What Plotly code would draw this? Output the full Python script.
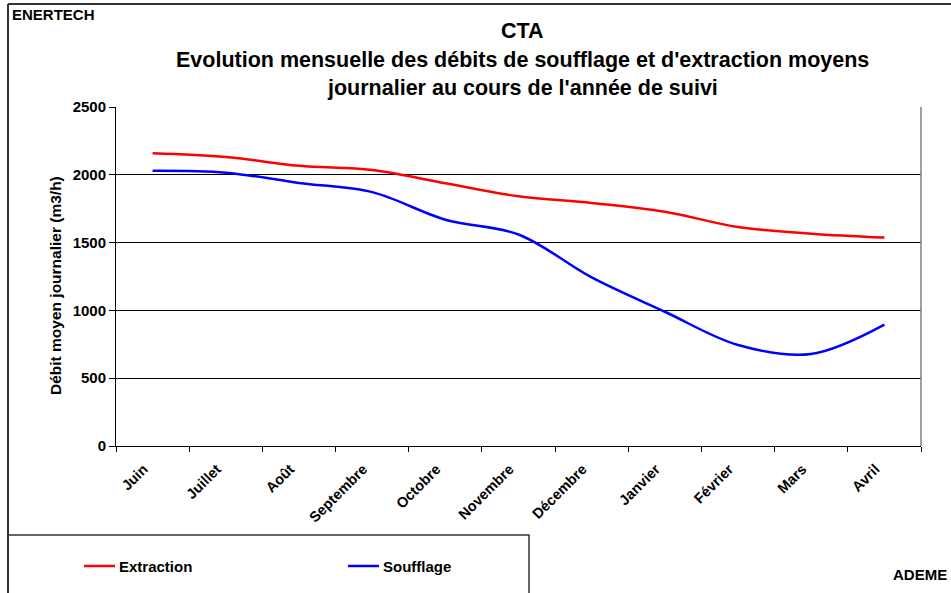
import plotly.graph_objects as go

months = ["Juin", "Juillet", "Août", "Septembre", "Octobre", "Novembre",
          "Décembre", "Janvier", "Février", "Mars", "Avril"]
extraction = [2159, 2132, 2066, 2035, 1938, 1842, 1792, 1727, 1615, 1566, 1537]
soufflage = [2030, 2016, 1940, 1872, 1669, 1560, 1243, 990, 745, 679, 895]
y_ticks = [0, 500, 1000, 1500, 2000, 2500]
title_lines = ["CTA",
               "Evolution mensuelle des débits de soufflage et d'extraction moyens",
               "journalier au cours de l'année de suivi"]
y_title = "Débit moyen journalier (m3/h)"

FONT = "Liberation Sans, Arial, sans-serif"

# plot-area geometry in pixels (used to place decorations in paper coords)
L, R, T, B = 116, 921, 107, 446
W, H = R - L, B - T


def px(x):
    return (x - L) / W


def py(y):
    return (B - y) / H


fig = go.Figure()
fig.add_trace(go.Scatter(x=months, y=extraction, name="Extraction", mode="lines",
                         line=dict(color="#ff0000", width=2.5, shape="spline", smoothing=1.0)))
fig.add_trace(go.Scatter(x=months, y=soufflage, name="Soufflage", mode="lines",
                         line=dict(color="#0000ff", width=2.5, shape="spline", smoothing=1.0)))

fig.update_layout(
    width=951, height=593,
    margin=dict(l=L, r=951 - R, t=T, b=593 - B),
    paper_bgcolor="white", plot_bgcolor="white",
    font=dict(family=FONT, color="black", size=14),
    showlegend=False,
    xaxis=dict(
        type="category", range=[-0.5, 10.5],
        showgrid=False, showline=True, linecolor="black", linewidth=1,
        ticks="outside", tickson="boundaries", ticklen=5, tickcolor="black",
        tickangle=-45, tickfont=dict(family=FONT, size=14.5, color="black"),
        tickvals=months, ticktext=["<b>%s</b>" % m for m in months],
        ticklabelshift=-9, ticklabelstandoff=8,
        zeroline=False,
    ),
    yaxis=dict(
        range=[0, 2500], tickvals=y_ticks,
        ticktext=["<b>%d</b>" % v for v in y_ticks],
        showgrid=True, gridcolor="black", gridwidth=1,
        showline=True, linecolor="black", linewidth=1,
        ticks="outside", ticklen=6, tickcolor="black",
        tickfont=dict(family=FONT, size=15, color="black"),
        zeroline=False,
    ),
)

shapes = [
    # right border of plot area
    dict(type="line", xref="paper", yref="paper", x0=1, x1=1, y0=0, y1=1,
         line=dict(color="#808080", width=1.5)),
    # outer chart border (top and left)
    dict(type="line", xref="paper", yref="paper",
         x0=px(8), x1=px(951), y0=py(4), y1=py(4),
         line=dict(color="#333333", width=2)),
    dict(type="line", xref="paper", yref="paper",
         x0=px(8), x1=px(8), y0=py(4), y1=py(600),
         line=dict(color="#333333", width=2)),
    # legend box
    dict(type="rect", xref="paper", yref="paper",
         x0=px(8), x1=px(529), y0=py(535), y1=py(600),
         line=dict(color="#333333", width=1.5), fillcolor="rgba(0,0,0,0)"),
    # legend samples
    dict(type="line", xref="paper", yref="paper",
         x0=px(84), x1=px(115), y0=py(566), y1=py(566),
         line=dict(color="#ff0000", width=2.5)),
    dict(type="line", xref="paper", yref="paper",
         x0=px(348), x1=px(379), y0=py(566), y1=py(566),
         line=dict(color="#0000ff", width=2.5)),
]
fig.update_layout(shapes=shapes)

annotations = [
    dict(text="<b>Extraction</b>", xref="paper", yref="paper",
         x=px(117), y=py(566), xanchor="left", yanchor="middle",
         showarrow=False, font=dict(family=FONT, size=15, color="black")),
    dict(text="<b>Soufflage</b>", xref="paper", yref="paper",
         x=px(381), y=py(566), xanchor="left", yanchor="middle",
         showarrow=False, font=dict(family=FONT, size=15, color="black")),
    dict(text="<b>ENERTECH</b>", xref="paper", yref="paper",
         x=px(10), y=py(15), xanchor="left", yanchor="middle",
         showarrow=False, font=dict(family=FONT, size=15, color="black")),
    dict(text="<b>ADEME</b>", xref="paper", yref="paper",
         x=px(949), y=py(574), xanchor="right", yanchor="middle",
         showarrow=False, font=dict(family=FONT, size=15, color="black")),
    dict(text="<b>%s</b>" % y_title, xref="paper", yref="paper",
         x=px(55), y=py(286), xanchor="center", yanchor="middle", textangle=-90,
         showarrow=False, font=dict(family=FONT, size=15.5, color="black")),
]
for line_text, yc in zip(title_lines, [31, 60, 88]):
    annotations.append(dict(text="<b>%s</b>" % line_text, xref="paper", yref="paper",
                            x=px(522), y=py(yc), xanchor="center", yanchor="middle",
                            showarrow=False, font=dict(family=FONT, size=21.5, color="black")))
fig.update_layout(annotations=annotations)

fig.write_html("out.html", config={"displayModeBar": False},
               post_script="document.body.style.margin='0';")
